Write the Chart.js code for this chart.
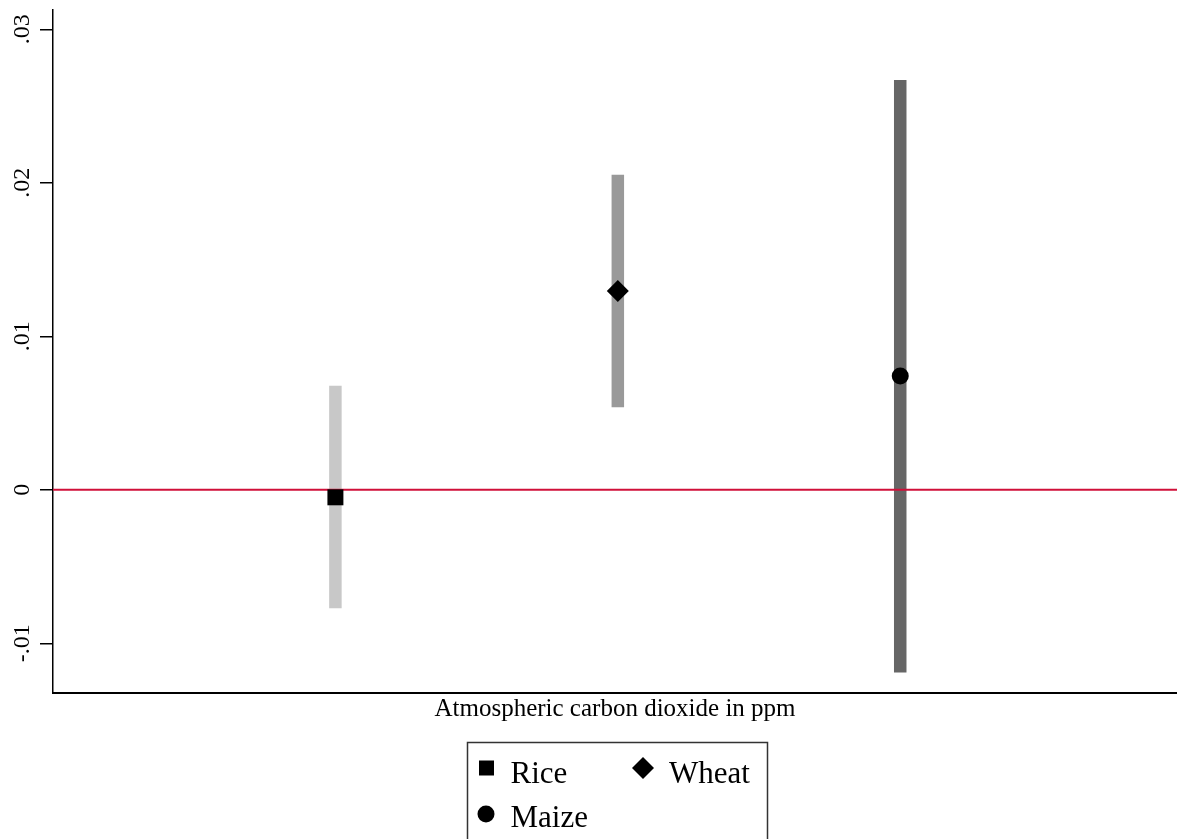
<!DOCTYPE html>
<html>
<head>
<meta charset="utf-8">
<script src="https://cdn.jsdelivr.net/npm/chart.js@4"></script>
<style>
  html, body { margin: 0; background: #fff; overflow: hidden; }
  #wrap { width: 1177px; height: 839px; position: relative; }
</style>
</head>
<body>
<div id="wrap"><canvas id="myChart"></canvas></div>
<script>
// Coefficients and 95% intervals
const crops = ['Rice', 'Wheat', 'Maize'];
const xPos = [1, 2, 3];
const estimates = [-0.00049, 0.01295, 0.00741];
const ciLow = [-0.00772, 0.00537, -0.01191];
const ciHigh = [0.00678, 0.02052, 0.0267];
const yTickValues = [-0.01, 0, 0.01, 0.02, 0.03];
const yTickLabels = ['-.01', '0', '.01', '.02', '.03'];
const xTitle = 'Atmospheric carbon dioxide in ppm';

const ciColors = ['#c8c8c8', '#999999', '#666666'];
const markerStyles = ['rect', 'rectRot', 'circle'];
const markerRadius = [11.3, 11, 8.5];
const refColor = '#d0103a';
const serif = '"Liberation Serif", "Times New Roman", serif';

const xMin = 0, xMax = 3.98;
const yMin = -0.01324, yMax = 0.03126;

// interval bars drawn as thick vertical lines
const datasets = [];
crops.forEach((c, i) => {
  datasets.push({
    type: 'line',
    label: c + ' CI',
    data: [{x: xPos[i], y: ciLow[i]}, {x: xPos[i], y: ciHigh[i]}],
    borderColor: ciColors[i],
    borderWidth: 12.5,
    borderCapStyle: 'butt',
    pointRadius: 0,
    order: 3
  });
});
// reference line at zero
datasets.push({
  type: 'line',
  label: 'zero',
  data: [{x: xMin, y: 0}, {x: xMax, y: 0}],
  borderColor: refColor,
  borderWidth: 2,
  pointRadius: 0,
  order: 2
});
// point estimates
crops.forEach((c, i) => {
  datasets.push({
    type: 'scatter',
    label: c,
    data: [{x: xPos[i], y: estimates[i]}],
    pointStyle: markerStyles[i],
    pointRadius: markerRadius[i],
    backgroundColor: '#000',
    borderWidth: 0,
    order: 1
  });
});

// y tick labels (rotated), x title and the boxed legend
const decor = {
  id: 'decor',
  afterDraw(chart) {
    const ctx = chart.ctx;
    const ys = chart.scales.y;
    const xs = chart.scales.x;
    ctx.save();
    ctx.fillStyle = '#000';
    ctx.font = '24px ' + serif;
    ctx.textAlign = 'center';
    ctx.textBaseline = 'alphabetic';
    yTickValues.forEach((v, i) => {
      ctx.save();
      ctx.translate(29, ys.getPixelForValue(v));
      ctx.rotate(-Math.PI / 2);
      ctx.fillText(yTickLabels[i], 0, 0);
      ctx.restore();
    });

    ctx.font = '25px ' + serif;
    ctx.fillText(xTitle, (xs.left + xs.right) / 2, 716);

    // legend
    ctx.strokeStyle = '#333';
    ctx.lineWidth = 1.5;
    ctx.strokeRect(467.5, 742.5, 300, 120);
    const items = [
      {mx: 486.5, my: 768, tx: 510.5, ty: 783},
      {mx: 643, my: 768, tx: 669, ty: 783},
      {mx: 486, my: 814, tx: 510.5, ty: 827}
    ];
    ctx.font = '31px ' + serif;
    ctx.textAlign = 'left';
    crops.forEach((c, i) => {
      const it = items[i];
      ctx.fillStyle = '#000';
      ctx.beginPath();
      if (markerStyles[i] === 'rect') {
        ctx.rect(it.mx - 7.5, it.my - 7.5, 15, 15);
      } else if (markerStyles[i] === 'rectRot') {
        ctx.moveTo(it.mx - 11, it.my);
        ctx.lineTo(it.mx, it.my - 11);
        ctx.lineTo(it.mx + 11, it.my);
        ctx.lineTo(it.mx, it.my + 11);
        ctx.closePath();
      } else {
        ctx.arc(it.mx, it.my, 8.5, 0, Math.PI * 2);
      }
      ctx.fill();
      ctx.fillText(c, it.tx, it.ty);
    });
    ctx.restore();
  }
};

const ctx = document.getElementById('myChart').getContext('2d');
new Chart(ctx, {
  type: 'scatter',
  data: { datasets: datasets },
  options: {
    responsive: true,
    maintainAspectRatio: false,
    animation: false,
    events: [],
    layout: { autoPadding: false, padding: { top: 10, right: 0, bottom: 0, left: 0 } },
    plugins: { legend: { display: false }, tooltip: { enabled: false } },
    scales: {
      x: {
        type: 'linear',
        min: xMin,
        max: xMax,
        grid: { display: false },
        ticks: { display: false },
        border: { display: true, color: '#000', width: 2 },
        afterFit(scale) { scale.height = 146; }
      },
      y: {
        type: 'linear',
        min: yMin,
        max: yMax,
        afterBuildTicks(scale) {
          scale.ticks = yTickValues.map(v => ({ value: v }));
        },
        grid: {
          display: true,
          drawOnChartArea: false,
          drawTicks: true,
          tickLength: 13,
          color: '#000',
          lineWidth: 1.5
        },
        ticks: { display: false },
        border: { display: true, color: '#000', width: 1.5 },
        afterFit(scale) { scale.width = 53; }
      }
    }
  },
  plugins: [decor]
});
</script>
</body>
</html>
